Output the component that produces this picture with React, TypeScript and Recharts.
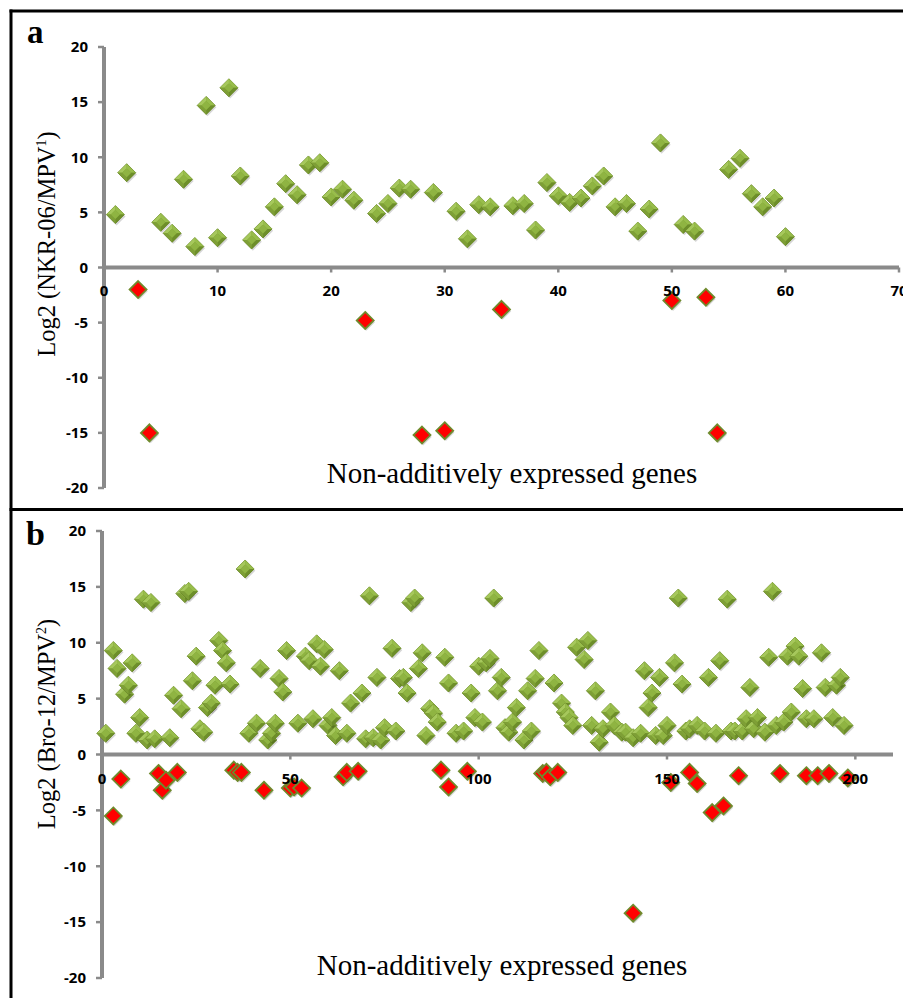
import React from "react";
import { ScatterChart, Scatter, XAxis, YAxis, ReferenceLine } from "recharts";

// Panel a: NKR-06 vs MPV1 (gene index, log2 ratio)
const A_UP: [number, number][] = [
  [1, 4.8], [2, 8.6], [5, 4.1], [6, 3.1], [7, 8.0], [8, 1.9], [9, 14.7], [10, 2.7],
  [11, 16.3], [12, 8.3], [13, 2.5], [14, 3.5], [15, 5.5], [16, 7.6], [17, 6.6], [18, 9.3],
  [19, 9.5], [20, 6.4], [21, 7.1], [22, 6.1], [24, 4.9], [25, 5.8], [26, 7.2], [27, 7.1],
  [29, 6.8], [31, 5.1], [32, 2.6], [33, 5.7], [34, 5.5], [36, 5.6], [37, 5.8], [38, 3.4],
  [39, 7.7], [40, 6.5], [41, 5.9], [42, 6.3], [43, 7.4], [44, 8.3], [45, 5.5], [46, 5.8],
  [47, 3.3], [48, 5.3], [49, 11.3], [51, 3.9], [52, 3.3], [55, 8.9], [56, 9.9], [57, 6.7],
  [58, 5.5], [59, 6.3], [60, 2.8],
];
const A_DOWN: [number, number][] = [
  [3, -2.0], [4, -15.0], [23, -4.8], [28, -15.2], [30, -14.8], [35, -3.8], [50, -3.0],
  [53, -2.7], [54, -15.0],
];

// Panel b: Bro-12 vs MPV2
const B_UP: [number, number][] = [
  [1, 1.9], [3, 9.3], [4, 7.7], [6, 5.4], [7, 6.2], [8, 8.2], [9, 1.9], [10, 3.3], [11, 13.9],
  [12, 1.3], [13, 13.6], [14, 1.4], [18, 1.5], [19, 5.3], [21, 4.1], [22, 14.4], [23, 14.6],
  [24, 6.6], [25, 8.8], [26, 2.3], [27, 2.0], [28, 4.2], [29, 4.6], [30, 6.2], [31, 10.2],
  [32, 9.3], [33, 8.2], [34, 6.3], [38, 16.6], [39, 1.9], [41, 2.8], [42, 7.7], [44, 1.3],
  [45, 1.9], [46, 2.8], [47, 6.8], [48, 5.6], [49, 9.3], [52, 2.8], [54, 8.8], [55, 8.4],
  [56, 3.2], [57, 9.9], [58, 7.9], [59, 9.4], [60, 2.6], [61, 3.3], [62, 1.7], [63, 7.5],
  [65, 1.9], [66, 4.6], [69, 5.5], [70, 1.4], [71, 14.2], [72, 1.5], [73, 6.9], [74, 1.3],
  [75, 2.4], [77, 9.5], [78, 2.1], [79, 6.8], [80, 6.9], [81, 5.5], [82, 13.6], [83, 14.0],
  [84, 7.7], [85, 9.1], [86, 1.7], [87, 4.1], [88, 3.7], [89, 2.9], [91, 8.7], [92, 6.4],
  [94, 1.9], [96, 2.1], [98, 5.5], [99, 3.3], [100, 7.9], [101, 2.9], [102, 8.2], [103, 8.6],
  [104, 14.0], [105, 5.7], [106, 6.9], [107, 2.4], [108, 2.0], [109, 2.9], [110, 4.2],
  [112, 1.3], [113, 5.7], [114, 2.1], [115, 6.8], [116, 9.3], [120, 6.4], [122, 4.6],
  [123, 3.8], [124, 3.3], [125, 2.6], [126, 9.6], [128, 8.5], [129, 10.2], [130, 2.6],
  [131, 5.7], [132, 1.1], [133, 2.3], [135, 3.8], [136, 2.6], [138, 2.0], [139, 2.0],
  [141, 1.5], [143, 1.9], [144, 7.5], [145, 4.2], [146, 5.5], [147, 1.7], [148, 6.9],
  [149, 1.7], [150, 2.6], [152, 8.2], [153, 14.0], [154, 6.3], [155, 2.1], [156, 2.3],
  [158, 2.6], [160, 2.1], [161, 6.9], [163, 1.9], [164, 8.4], [166, 13.9], [167, 2.1],
  [168, 2.1], [170, 2.1], [171, 3.2], [172, 6.0], [173, 2.3], [174, 3.3], [176, 2.0],
  [177, 8.7], [178, 14.6], [179, 2.6], [181, 2.9], [182, 8.8], [183, 3.8], [184, 9.7],
  [185, 8.8], [186, 5.9], [187, 3.2], [189, 3.2], [191, 9.1], [192, 6.0], [194, 3.3],
  [195, 6.2], [196, 6.9], [197, 2.6],
];
const B_DOWN: [number, number][] = [
  [3, -5.5], [5, -2.2], [15, -1.7], [16, -3.2], [17, -2.3], [20, -1.6], [35, -1.4], [36, -1.6],
  [37, -1.6], [43, -3.2], [50, -3.0], [51, -2.9], [53, -3.0], [64, -2.0], [65, -1.6], [68, -1.5],
  [90, -1.4], [92, -2.9], [97, -1.5], [117, -1.7], [118, -1.6], [119, -2.0], [121, -1.6],
  [141, -14.2], [151, -2.5], [156, -1.6], [158, -2.6], [162, -5.2], [165, -4.6], [169, -1.9],
  [180, -1.7], [187, -1.9], [190, -1.9], [193, -1.7], [198, -2.1],
];

const Y_TICKS = [-20, -15, -10, -5, 0, 5, 10, 15, 20];
const A_X_TICKS = [0, 10, 20, 30, 40, 50, 60, 70];
const B_X_TICKS = [0, 50, 100, 150, 200];

const AXIS = "#8a8a8a";
const toPts = (arr: [number, number][]) => arr.map(([x, y]) => ({ x, y }));

const tickFont: React.CSSProperties = {
  fontFamily: "'Open Sans', sans-serif",
  fontWeight: 700,
  fontSize: 15,
  fill: "#000",
};

const dia = (cx: number, cy: number, r: number) =>
  `${cx},${cy - r} ${cx + r},${cy} ${cx},${cy + r} ${cx - r},${cy}`;

const GreenDiamond = (props: any) => {
  const { cx, cy } = props;
  if (cx == null || cy == null) return null;
  const r = 9;
  const i = 4.5;
  return (
    <g>
      <polygon points={dia(cx + 1.2, cy + 1.8, r)} fill="rgba(0,0,0,0.16)" />
      <polygon points={dia(cx, cy, r)} fill="#7c9d33" stroke="#627f22" strokeWidth={0.8} />
      <polygon points={`${cx - r},${cy} ${cx},${cy - r} ${cx},${cy - i} ${cx - i},${cy}`} fill="#a6c85c" />
      <polygon points={`${cx},${cy - r} ${cx + r},${cy} ${cx + i},${cy} ${cx},${cy - i}`} fill="#98bd4b" />
      <polygon points={`${cx + r},${cy} ${cx},${cy + r} ${cx},${cy + i} ${cx + i},${cy}`} fill="#6d8e2a" />
      <polygon points={`${cx},${cy + r} ${cx - r},${cy} ${cx - i},${cy} ${cx},${cy + i}`} fill="#7e9f36" />
      <polygon points={dia(cx, cy, i)} fill="#8fb442" />
    </g>
  );
};

const RedDiamond = (props: any) => {
  const { cx, cy } = props;
  if (cx == null || cy == null) return null;
  const r = 8.5;
  return (
    <g>
      <polygon points={dia(cx + 1.2, cy + 1.8, r)} fill="rgba(0,0,0,0.16)" />
      <polygon points={dia(cx, cy, r)} fill="#ff0000" stroke="#6f8a2c" strokeWidth={1.8} />
    </g>
  );
};

// Excel draws the category axis through y = 0; the domain is symmetric so that is mid-plot
const makeXTick = (plotH: number, labelDy: number) => (props: any) => {
  const { x, y, payload } = props;
  const zy = y - plotH / 2;
  return (
    <g>
      <line x1={x} x2={x} y1={zy} y2={zy + 5} stroke={AXIS} strokeWidth={2.5} />
      <text x={x} y={zy + labelDy} textAnchor="middle" style={tickFont}>
        {payload.value}
      </text>
    </g>
  );
};

interface PanelProps {
  up: [number, number][];
  down: [number, number][];
  width: number;
  height: number;
  top: number;
  bottom: number;
  yWidth: number;
  right: number;
  xMax: number;
  xTicks: number[];
  labelDy: number;
}

function Panel(p: PanelProps) {
  const plotH = p.height - p.top - p.bottom;
  return (
    <ScatterChart
      width={p.width}
      height={p.height}
      margin={{ top: p.top, right: p.right, bottom: 0, left: 0 }}
    >
      <XAxis
        type="number"
        dataKey="x"
        domain={[0, p.xMax]}
        ticks={p.xTicks}
        height={p.bottom}
        axisLine={false}
        tickLine={false}
        tickSize={0}
        tickMargin={0}
        interval={0}
        tick={makeXTick(plotH, p.labelDy)}
      />
      <YAxis
        type="number"
        dataKey="y"
        domain={[-20, 20]}
        ticks={Y_TICKS}
        width={p.yWidth}
        interval={0}
        axisLine={{ stroke: AXIS, strokeWidth: 4 }}
        tickLine={{ stroke: AXIS, strokeWidth: 2.5 }}
        tickSize={6}
        tickMargin={10}
        tick={tickFont}
      />
      <ReferenceLine y={0} stroke={AXIS} strokeWidth={4} ifOverflow="extendDomain" />
      <Scatter data={toPts(p.up)} shape={GreenDiamond} isAnimationActive={false} />
      <Scatter data={toPts(p.down)} shape={RedDiamond} isAnimationActive={false} />
    </ScatterChart>
  );
}

const serif = "'Liberation Serif', 'Times New Roman', serif";

export default function App() {
  return (
    <div
      style={{
        position: "absolute",
        left: 0,
        top: 0,
        width: 903,
        height: 998,
        background: "#fff",
        overflow: "hidden",
      }}
    >
      <div style={{ position: "absolute", left: 0, top: 0 }}>
        <Panel
          up={A_UP}
          down={A_DOWN}
          width={903}
          height={509}
          top={47}
          bottom={21}
          yWidth={104}
          right={4}
          xMax={70}
          xTicks={A_X_TICKS}
          labelDy={28}
        />
      </div>
      <div style={{ position: "absolute", left: 0, top: 509 }}>
        <Panel
          up={B_UP}
          down={B_DOWN}
          width={903}
          height={489}
          top={22}
          bottom={20}
          yWidth={102}
          right={10}
          xMax={210}
          xTicks={B_X_TICKS}
          labelDy={29}
        />
      </div>
      <svg
        width={903}
        height={998}
        style={{ position: "absolute", left: 0, top: 0, pointerEvents: "none" }}
      >
        <rect x={9.5} y={9.5} width={3} height={990} fill="#000" />
        <rect x={9.5} y={9.5} width={900} height={3} fill="#000" />
        <rect x={9.5} y={508} width={900} height={3} fill="#000" />
        <text x={27} y={43} fontFamily={serif} fontWeight={700} fontSize={33}>a</text>
        <text x={26} y={545} fontFamily={serif} fontWeight={700} fontSize={34}>b</text>
        <text x={512} y={483} textAnchor="middle" fontFamily={serif} fontSize={29}>
          Non-additively expressed genes
        </text>
        <text x={502} y={975} textAnchor="middle" fontFamily={serif} fontSize={29}>
          Non-additively expressed genes
        </text>
        <text
          transform="translate(55,244) rotate(-90)"
          textAnchor="middle"
          fontFamily={serif}
          fontSize={24.5}
        >
          Log2 (NKR-06/MPV
          <tspan dy={-9} fontSize={14}>1</tspan>
          <tspan dy={9}>)</tspan>
        </text>
        <text
          transform="translate(55,724) rotate(-90)"
          textAnchor="middle"
          fontFamily={serif}
          fontSize={24.5}
        >
          Log2 (Bro-12/MPV
          <tspan dy={-9} fontSize={14}>2</tspan>
          <tspan dy={9}>)</tspan>
        </text>
      </svg>
    </div>
  );
}
